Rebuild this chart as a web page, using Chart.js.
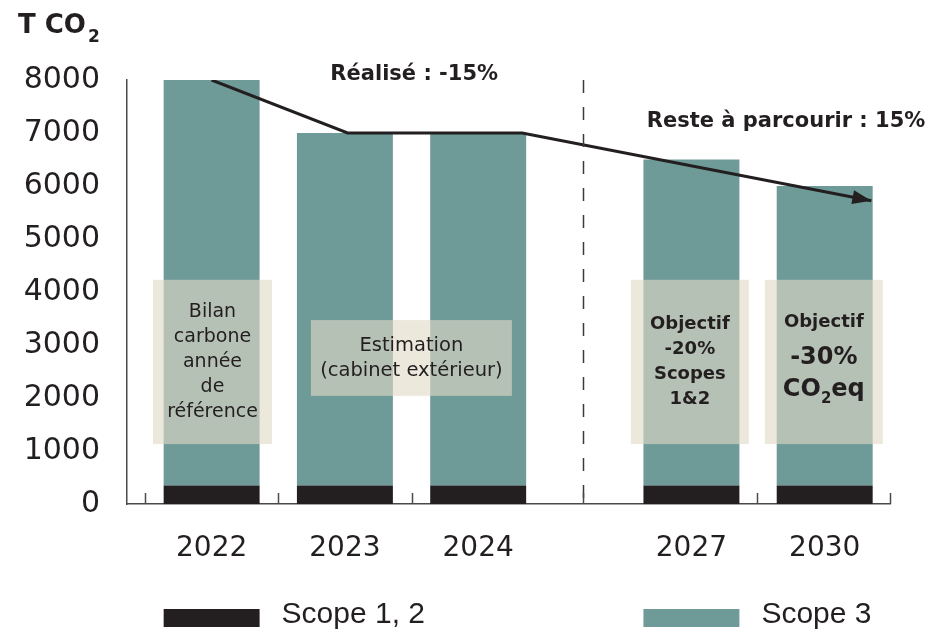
<!DOCTYPE html>
<html><head><meta charset="utf-8">
<script src="https://cdn.jsdelivr.net/npm/chart.js@4"></script>
<style>html,body{margin:0;padding:0;background:#fff}</style>
</head><body>
<div style="width:934px;height:629px"><canvas id="c" width="934" height="629"></canvas></div>
<script>
// ---- data ----
const years = ['2022', '2023', '2024', '2027', '2030'];
const yearPos = [0.5, 1.5, 2.5, 4.1, 5.1];
const scope12 = [350, 350, 350, 350, 350];
const scope3 = [7650, 6650, 6650, 6150, 5650];
const trajX = [0.5, 1.52, 2.83, 5.45];
const trajY = [8000, 7000, 7000, 5720];
const yTickValues = [0, 1000, 2000, 3000, 4000, 5000, 6000, 7000, 8000];
const separators = [0, 1, 2, 3.29, 4.59, 5.59];
const dividerX = 3.29;
const seriesLabels = ['Scope 1, 2', 'Scope 3'];

const FONT = '"DejaVu Sans", sans-serif';
const INK = '#231f20';
const TEAL = '#6e9a98';

const notes = [
  {x0: 0.06, x1: 0.953, y0: 1130, y1: 4230, lines: [['Bilan',19,'normal'],['carbone',19,'normal'],['année',19,'normal'],['de',19,'normal'],['référence',19,'normal']]},
  {x0: 1.245, x1: 2.753, y0: 2040, y1: 3470, lines: [['Estimation',19.5,'normal'],['(cabinet extérieur)',19.5,'normal']]},
  {x0: 3.646, x1: 4.531, y0: 1130, y1: 4230, lines: [['Objectif',18,'bold'],['-20%',18,'bold'],['Scopes',18,'bold'],['1&2',18,'bold']]},
  {x0: 4.651, x1: 5.536, y0: 1130, y1: 4230, special: true}
];
const headers = [
  {text: 'Réalisé : -15%', x: 2.02, y: 8110},
  {text: 'Reste à parcourir : 15%', x: 4.81, y: 7225}
];

function drawSub(ctx, parts, cx, baseline, size) {
  let total = 0;
  const widths = parts.map(([t, sub]) => {
    ctx.font = 'bold ' + (sub ? Math.round(size * 0.62) : size) + 'px ' + FONT;
    const w = ctx.measureText(t).width; total += w; return w;
  });
  let x = cx - total / 2;
  ctx.textAlign = 'left';
  ctx.textBaseline = 'alphabetic';
  parts.forEach(([t, sub], i) => {
    ctx.font = 'bold ' + (sub ? Math.round(size * 0.62) : size) + 'px ' + FONT;
    ctx.fillText(t, x, baseline + (sub ? size * 0.28 : 0));
    x += widths[i];
  });
}

const overlay = {
  id: 'overlay',
  afterDatasetsDraw(chart) {
    const ctx = chart.ctx;
    const xs = chart.scales.x, ys = chart.scales.y;
    const area = chart.chartArea;
    ctx.save();
    // divider dashed line
    const dx = Math.round(xs.getPixelForValue(dividerX)) + 0.5;
    ctx.strokeStyle = '#3a3a3a';
    ctx.lineWidth = 1.5;
    ctx.setLineDash([13, 14]);
    ctx.beginPath();
    ctx.moveTo(dx, area.top);
    ctx.lineTo(dx, area.bottom);
    ctx.stroke();
    ctx.setLineDash([]);
    // small upward ticks on x axis
    ctx.strokeStyle = '#4a4a4a';
    ctx.lineWidth = 1.5;
    separators.forEach(v => {
      const px = Math.round(xs.getPixelForValue(v)) + 0.5;
      ctx.beginPath();
      ctx.moveTo(px, area.bottom);
      ctx.lineTo(px, area.bottom - 11);
      ctx.stroke();
    });
    // arrow head
    const meta = chart.getDatasetMeta(2);
    const pts = meta.data;
    const p = pts[pts.length - 1], q = pts[pts.length - 2];
    const ang = Math.atan2(p.y - q.y, p.x - q.x);
    const L = 19, W = 7;
    ctx.fillStyle = INK;
    ctx.beginPath();
    ctx.moveTo(p.x, p.y);
    ctx.lineTo(p.x - L * Math.cos(ang) + W * Math.sin(ang), p.y - L * Math.sin(ang) - W * Math.cos(ang));
    ctx.lineTo(p.x - L * Math.cos(ang) - W * Math.sin(ang), p.y - L * Math.sin(ang) + W * Math.cos(ang));
    ctx.closePath();
    ctx.fill();
    // annotation boxes
    notes.forEach(n => {
      const x0 = xs.getPixelForValue(n.x0), x1 = xs.getPixelForValue(n.x1);
      const y0 = ys.getPixelForValue(n.y1), y1 = ys.getPixelForValue(n.y0);
      ctx.fillStyle = 'rgba(226,218,198,0.62)';
      ctx.fillRect(x0, y0, x1 - x0, y1 - y0);
      const cx = (x0 + x1) / 2, cy = (y0 + y1) / 2;
      ctx.fillStyle = INK;
      ctx.textAlign = 'center';
      ctx.textBaseline = 'middle';
      if (n.special) {
        ctx.font = 'bold 18px ' + FONT;
        ctx.fillText('Objectif', cx, cy - 40);
        ctx.font = 'bold 24px ' + FONT;
        ctx.fillText('-30%', cx, cy - 4);
        drawSub(ctx, [['CO', false], ['2', true], ['eq', false]], cx, cy + 34, 24);
      } else {
        const lh = 25;
        const start = cy - (n.lines.length - 1) * lh / 2;
        n.lines.forEach(([t, s, w], i) => {
          ctx.font = w + ' ' + s + 'px ' + FONT;
          ctx.fillText(t, cx, start + i * lh);
        });
      }
    });
    // header labels
    ctx.fillStyle = INK;
    ctx.textAlign = 'center';
    ctx.textBaseline = 'middle';
    ctx.font = 'bold 21px ' + FONT;
    headers.forEach(h => ctx.fillText(h.text, xs.getPixelForValue(h.x), ys.getPixelForValue(h.y)));
    // axis title T CO2
    ctx.textAlign = 'left';
    ctx.textBaseline = 'alphabetic';
    ctx.font = 'bold 26px ' + FONT;
    const tx = ys.left + 18, tb = area.top - 47;
    ctx.fillText('T CO', tx, tb);
    const tw = ctx.measureText('T CO').width;
    ctx.font = 'bold 17px ' + FONT;
    ctx.fillText('2', tx + tw + 2, tb + 9);
    // legend
    const legendDefs = [{ds: 0, bar: 0}, {ds: 1, bar: 3}];
    legendDefs.forEach(d => {
      const el = chart.getDatasetMeta(d.ds).data[d.bar];
      const half = el.width / 2;
      ctx.fillStyle = chart.data.datasets[d.ds].backgroundColor;
      ctx.fillRect(el.x - half, area.bottom + 105, el.width, 18);
      ctx.fillStyle = INK;
      ctx.font = '30px "Liberation Sans", sans-serif';
      ctx.textAlign = 'left';
      ctx.textBaseline = 'middle';
      ctx.fillText(chart.data.datasets[d.ds].label, el.x + half + 22, area.bottom + 111);
    });
    ctx.restore();
  }
};

new Chart(document.getElementById('c'), {
  data: {
    datasets: [
      {type: 'bar', label: seriesLabels[0], data: yearPos.map((x, i) => ({x, y: scope12[i]})), backgroundColor: INK, stack: 's', order: 2},
      {type: 'bar', label: seriesLabels[1], data: yearPos.map((x, i) => ({x, y: scope3[i]})), backgroundColor: TEAL, stack: 's', order: 2},
      {type: 'line', label: 'trajectoire', data: trajX.map((x, i) => ({x, y: trajY[i]})), borderColor: INK, borderWidth: 3, pointRadius: 0, tension: 0, fill: false, stack: 'traj', order: 1}
    ]
  },
  options: {
    responsive: false,
    animation: false,
    layout: {padding: {top: 80, right: 44, left: 0, bottom: 0}},
    plugins: {legend: {display: false}, tooltip: {enabled: false}},
    scales: {
      x: {
        type: 'linear', min: -0.135, max: 5.59, stacked: true, offset: false, bounds: 'data',
        afterBuildTicks: s => { s.ticks = yearPos.map(v => ({value: v})); },
        afterFit: s => { s.height = 125; },
        grid: {display: false, drawTicks: false, offset: false},
        border: {display: true, color: '#4a4a4a', width: 1.5},
        ticks: {
          autoSkip: false, maxRotation: 0, padding: 28,
          color: INK, font: {family: FONT, size: 28},
          callback: v => { const i = yearPos.indexOf(v); return i >= 0 ? years[i] : ''; }
        }
      },
      y: {
        type: 'linear', min: 0, max: 8000, stacked: true,
        afterBuildTicks: s => { s.ticks = yTickValues.map(v => ({value: v})); },
        afterFit: s => { s.width = 127; },
        grid: {display: false, drawTicks: false},
        border: {display: true, color: '#4a4a4a', width: 1.5},
        ticks: {padding: 27, color: INK, font: {family: FONT, size: 30}, callback: v => String(v)}
      }
    }
  },
  plugins: [overlay]
});
</script>
</body></html>
